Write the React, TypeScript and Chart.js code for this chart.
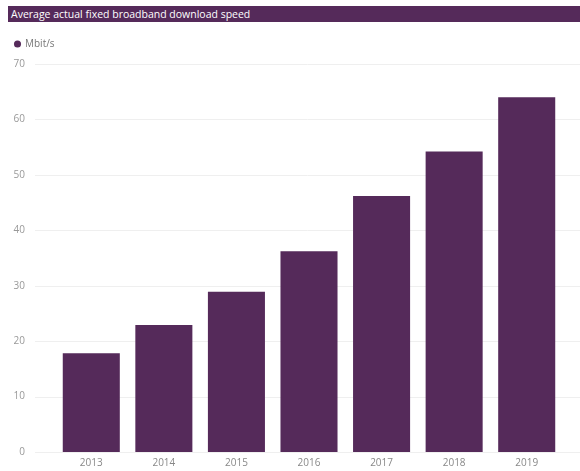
import React, { useEffect, useRef } from "react";
import { Chart, registerables } from "chart.js";

Chart.register(...registerables);

const TITLE = "Average actual fixed broadband download speed";
const SERIES_LABEL = "Mbit/s";
const YEARS = ["2013", "2014", "2015", "2016", "2017", "2018", "2019"];
const SPEEDS = [17.8, 22.9, 28.9, 36.2, 46.2, 54.2, 64.0];
const Y_MAX = 70;
const Y_STEP = 10;

const PURPLE = "#552a5a";
const FONT = "'Open Sans', 'Noto Sans', sans-serif";

const layoutPlugin = {
  id: "fullGrid",
  beforeInit(chart: any) {
    const lg = chart.legend;
    if (lg) {
      const orig = lg.fit;
      lg.fit = function () {
        orig.call(this);
        this.height += 5;
      };
    }
  },
  beforeDatasetsDraw(chart: any) {
    const { ctx } = chart;
    const y = chart.scales.y;
    ctx.save();
    ctx.strokeStyle = "#efefef";
    ctx.lineWidth = 1;
    y.ticks.forEach((t: any) => {
      const py = Math.round(y.getPixelForValue(t.value)) + 0.5;
      ctx.beginPath();
      ctx.moveTo(35, py);
      ctx.lineTo(chart.width, py);
      ctx.stroke();
    });
    ctx.restore();
  },
};

export default function App() {
  const ref = useRef<HTMLCanvasElement | null>(null);
  useEffect(() => {
    if (!ref.current) return;
    const chart = new Chart(ref.current, {
      type: "bar",
      data: {
        labels: YEARS,
        datasets: [
          {
            label: SERIES_LABEL,
            data: SPEEDS,
            backgroundColor: PURPLE,
            borderColor: PURPLE,
            borderWidth: 0,
            categoryPercentage: 0.786,
            barPercentage: 1,
          },
        ],
      },
      options: {
        animation: false,
        responsive: false,
        maintainAspectRatio: false,
        layout: { padding: { top: 30, left: 6, right: 17, bottom: 0 } },
        plugins: {
          legend: {
            position: "top",
            align: "start",
            labels: {
              usePointStyle: true,
              pointStyle: "circle",
              boxWidth: 5,
              boxHeight: 5,
              padding: 9,
              color: "#777",
              font: { family: FONT, size: 10 },
            },
          },
          tooltip: { enabled: false },
        },
        scales: {
          x: {
            grid: { display: false, drawTicks: false },
            border: { display: false },
            ticks: { color: "#888", font: { family: FONT, size: 10 }, padding: 5 },
            afterFit: (s: any) => {
              s.height = 19;
            },
          },
          y: {
            min: 0,
            max: Y_MAX,
            grid: { display: false, drawTicks: false },
            border: { display: false },
            ticks: {
              stepSize: Y_STEP,
              color: "#999",
              font: { family: FONT, size: 10 },
              padding: 30,
            },
            afterFit: (s: any) => {
              s.width = 49;
            },
          },
        },
      },
      plugins: [layoutPlugin],
    });
    return () => chart.destroy();
  }, []);

  return (
    <div
      style={{
        position: "fixed",
        left: 0,
        top: 0,
        width: 580,
        height: 471,
        overflow: "hidden",
        background: "#fff",
      }}
    >
      <canvas ref={ref} width={580} height={488} style={{ position: "absolute", left: 0, top: 0 }} />
      <div
        style={{
          position: "absolute",
          left: 8,
          top: 6,
          width: 572,
          height: 16,
          background: PURPLE,
          color: "#fff",
          fontFamily: FONT,
          fontSize: 10.5,
          lineHeight: "16px",
          paddingLeft: 3,
          boxSizing: "border-box",
          whiteSpace: "nowrap",
        }}
      >
        {TITLE}
      </div>
    </div>
  );
}
